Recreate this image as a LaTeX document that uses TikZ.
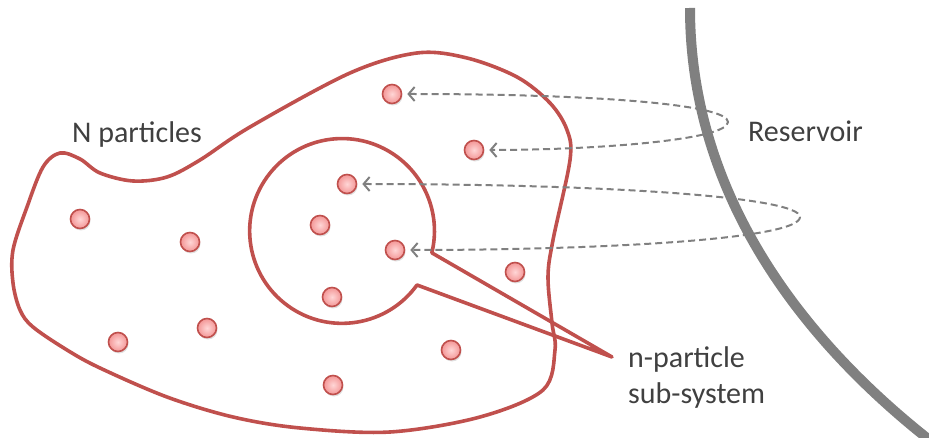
\documentclass[tikz,border=0pt]{standalone}
\usepackage{fontspec}
\setmainfont{Carlito}
\usetikzlibrary{arrows.meta}
\definecolor{blobred}{RGB}{192,80,77}
\definecolor{pinkin}{RGB}{255,214,214}
\definecolor{pinkout}{RGB}{243,150,150}
\definecolor{txtgray}{RGB}{64,64,64}
\definecolor{resgray}{RGB}{128,128,128}
\definecolor{dashgray}{RGB}{128,128,128}
\tikzset{
  particle/.style={circle, minimum size=19pt, inner sep=0pt, draw=blobred, line width=1.6pt,
    inner color=pinkin, outer color=pinkout},
  shadowdot/.style={circle, minimum size=19pt, inner sep=0pt, fill=black, opacity=0.12},
  blob/.style={draw=blobred, line width=3.6pt, line join=round},
  dasharrow/.style={draw=dashgray, line width=2pt, dash pattern=on 7pt off 4pt,
    {Straight Barb[length=6pt,width=14pt]}-{Straight Barb[length=6pt,width=14pt]},
    shorten <=5pt, shorten >=5pt},
  lbl/.style={text=txtgray, font=\fontsize{30}{36}\selectfont, inner sep=0pt, anchor=base west},
  reservoir/.style={draw=resgray, line width=10pt}
}
\begin{document}
\begin{tikzpicture}[x=1pt,y=-1pt]
\useasboundingbox (0,0) rectangle (929,438);
% outer blob
\draw[blob] plot[smooth cycle, tension=0.55] coordinates {
 (13,250) (27,207) (43,167) (60,153) (80,159) (100,173) (133,181) (167,177) (200,160)
 (250,127) (350,73) (417,53) (467,58) (517,77) (550,103) (567,130) (570,160)
 (553,240) (548,277) (552,323) (555,350) (543,390) (480,417) (390,432) (300,428)
 (233,417) (167,397) (100,368) (67,350) (33,327) (20,310) (13,283)};
% inner sub-system callout
\coordinate (tip) at (612,357);
\draw[blob] (tip) -- (417,285) arc[start angle=35.8, end angle=373.7, radius=92.4] -- cycle;
% reservoir
\coordinate (r1) at (690,8);
\coordinate (r2) at (932,442);
\draw[reservoir] (r1) .. controls (690,200) and (808,345) .. (r2);
% particles
\foreach \n/\x/\y in {1/392/94, 2/474/150, 3/347/184, 4/320/225, 5/395/250, 6/332/297,
  7/80/219, 8/190/242, 9/515/272, 10/118/342, 11/207/328, 12/451/350, 13/333/385}{
  \node[shadowdot] at (\x+1,\y+2) {};
  \node[particle] (p\n) at (\x,\y) {};
}
% exchange arrows
\coordinate (t1) at (728,122);
\coordinate (t2) at (800,217);
\draw[dasharrow] (p1.east) .. controls +(200,0) and +(0,-17) .. (t1) .. controls +(0,18) and +(110,0) .. (p2.east);
\draw[dasharrow] (p3.east) .. controls +(250,0) and +(0,-20) .. (t2) .. controls +(0,22) and +(200,0) .. (p5.east);
% labels
\node[lbl] (nlab) at (72,143) {N particles};
\node[lbl] (rlab) at (748,142) {Reservoir};
\node[lbl] (slab1) at (628,367) {n-particle};
\node[lbl] (slab2) at (628,403) {sub-system};
\end{tikzpicture}
\end{document}
